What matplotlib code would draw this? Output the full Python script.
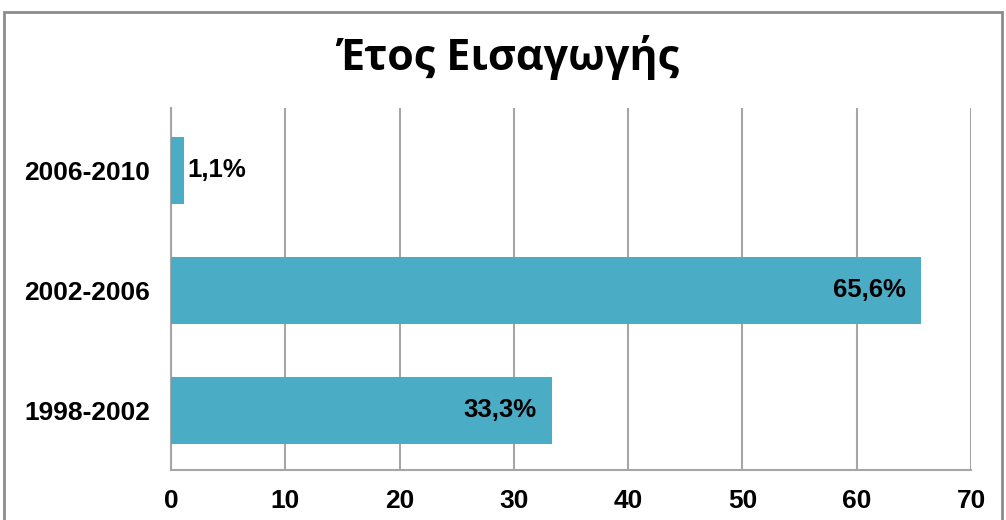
import matplotlib
matplotlib.use("Agg")
import matplotlib.pyplot as plt
from matplotlib.patches import Rectangle

title = "Έτος Εισαγωγής"
categories = ["1998-2002", "2002-2006", "2006-2010"]
values = [33.3, 65.6, 1.1]
labels = ["33,3%", "65,6%", "1,1%"]
xticks = [0, 10, 20, 30, 40, 50, 60, 70]

plt.rcParams['font.family'] = ['Liberation Sans', 'DejaVu Sans']

W, H = 1006, 520
fig = plt.figure(figsize=(W / 100, H / 100), dpi=100)
fig.patch.set_facecolor('white')

# outer border of the chart area
fig.add_artist(Rectangle((4 / W, -0.05), (1002 - 4) / W, 1.05 - 12 / H,
                         transform=fig.transFigure, fill=False,
                         edgecolor='#8c8c8c', linewidth=2))

ax = fig.add_axes([171 / W, 50 / H, 800 / W, 362 / H])
ypos = list(range(len(categories)))
bar_color = '#4BACC6'
ax.barh(ypos, values, height=0.56, color=bar_color, zorder=3)

ax.set_xlim(0, 70)
ax.set_ylim(-0.5, 2.52)
ax.set_xticks(xticks)
ax.set_xticklabels([str(t) for t in xticks], fontsize=19, fontweight='bold')
ax.set_yticks(ypos)
ax.set_yticklabels(categories, fontsize=19, fontweight='bold')
ax.tick_params(axis='both', length=0)
ax.tick_params(axis='x', pad=14)
ax.tick_params(axis='y', pad=15)

ax.grid(axis='x', color='#a6a6a6', linewidth=1.5, zorder=0)
for s in ['top', 'right']:
    ax.spines[s].set_visible(False)
ax.spines['left'].set_color('#a6a6a6')
ax.spines['left'].set_linewidth(1.5)
ax.spines['bottom'].set_color('#a6a6a6')
ax.spines['bottom'].set_linewidth(1.5)

for y, v, lab in zip(ypos, values, labels):
    if v < 10:
        ax.text(v + 0.3, y, lab, ha='left', va='center', fontsize=18.5,
                fontweight='bold', zorder=4)
    else:
        ax.text(v - 1.3, y, lab, ha='right', va='center', fontsize=18.5,
                fontweight='bold', zorder=4)

fig.text(508 / W, 1 - 58 / H, title, ha='center', va='center',
         fontsize=31, fontweight='bold', family=['Open Sans', 'DejaVu Sans'])

fig.savefig('out.png', dpi=100, facecolor='white')
